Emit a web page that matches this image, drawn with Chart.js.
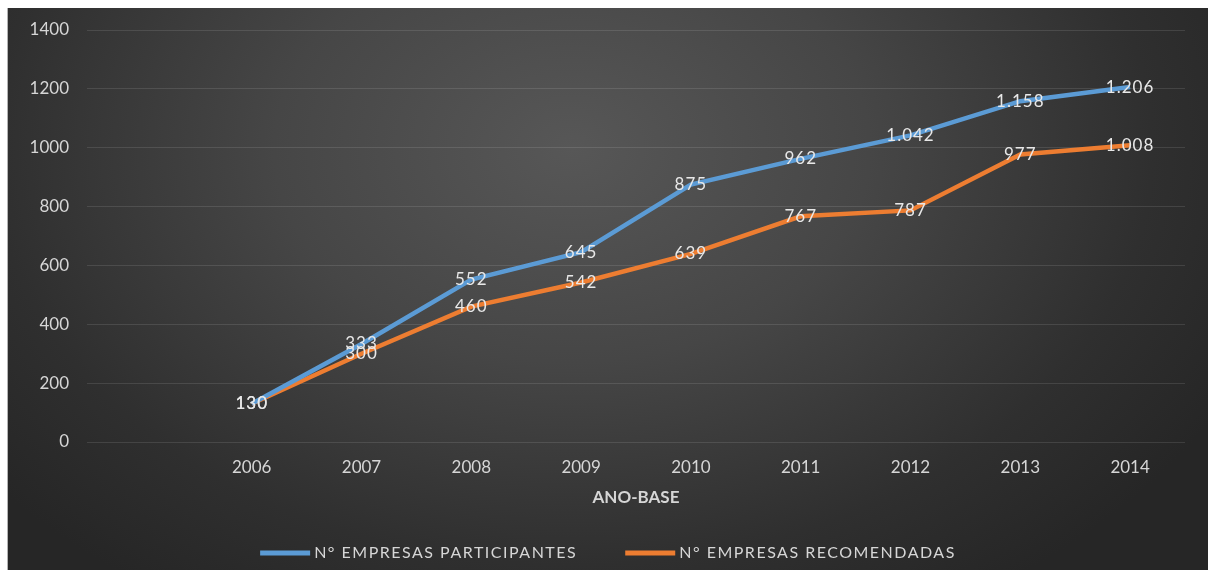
<!DOCTYPE html>
<html lang="pt-BR">
<head>
<meta charset="utf-8">
<title>Empresas participantes e recomendadas por ano-base</title>
<script src="https://cdn.jsdelivr.net/npm/chart.js@4.4.1/dist/chart.umd.min.js"></script>
<style>
  html, body { margin: 0; padding: 0; background: #fff; }
  #frame {
    position: absolute; left: 7px; top: 8px; width: 1201px; height: 562px;
    box-sizing: border-box; border-left: 1px solid #b4b4b4;
    background: radial-gradient(ellipse 62% 95% at 47% 25%, #575757 0%, #464646 40%, #2f2f2f 78%, #262626 100%);
  }
  canvas { display: block; }
</style>
</head>
<body>
<div id="frame"><canvas id="lineChart" width="1200" height="562"></canvas></div>
<script>
// categories (first slot is an empty band, as in the original)
const years = ['', '2006', '2007', '2008', '2009', '2010', '2011', '2012', '2013', '2014'];
const participantes = [null, 130, 333, 552, 645, 875, 962, 1042, 1158, 1206];
const recomendadas = [null, 130, 300, 460, 542, 639, 767, 787, 977, 1008];
const yTicks = [0, 200, 400, 600, 800, 1000, 1200, 1400];

const textColor = '#d6d6d6';
const fontFamily = 'Lato, "Open Sans", sans-serif';

function fmt(v) {
  return String(v).replace(/\B(?=(\d{3})+(?!\d))/g, '.');
}

// value labels centred on each point
const valueLabels = {
  id: 'valueLabels',
  afterDatasetsDraw(chart) {
    const ctx = chart.ctx;
    ctx.save();
    ctx.font = '17px ' + fontFamily;
    ctx.letterSpacing = '1px';
    ctx.fillStyle = '#e8e8e8';
    ctx.textAlign = 'center';
    ctx.textBaseline = 'middle';
    chart.data.datasets.forEach((ds, i) => {
      chart.getDatasetMeta(i).data.forEach((pt, j) => {
        const v = ds.data[j];
        if (v == null) return;
        ctx.fillText(fmt(v), pt.x, pt.y);
      });
    });
    ctx.restore();
  }
};

// legend with long line samples, like the original
const lineLegend = {
  id: 'lineLegend',
  afterDraw(chart) {
    const ctx = chart.ctx;
    ctx.save();
    ctx.font = '16px ' + fontFamily;
    ctx.letterSpacing = '1.5px';
    ctx.textBaseline = 'middle';
    const lineW = 50, gapText = 4, gapItem = 48, y = 545;
    const items = chart.data.datasets.map(ds => ({
      label: ds.label, color: ds.borderColor, w: ctx.measureText(ds.label).width
    }));
    const total = items.reduce((s, it) => s + lineW + gapText + it.w, 0) + gapItem * (items.length - 1);
    let x = (chart.width - total) / 2;
    items.forEach(it => {
      ctx.fillStyle = it.color;
      ctx.fillRect(x, y - 2.5, lineW, 5);
      ctx.fillStyle = textColor;
      ctx.fillText(it.label, x + lineW + gapText, y);
      x += lineW + gapText + it.w + gapItem;
    });
    ctx.restore();
  }
};

const ctx = document.getElementById('lineChart').getContext('2d');
new Chart(ctx, {
  type: 'line',
  data: {
    labels: years,
    datasets: [
      {
        label: 'N° EMPRESAS PARTICIPANTES',
        data: participantes,
        borderColor: '#5b9bd5',
        backgroundColor: '#5b9bd5',
        borderWidth: 4.5,
        pointRadius: 0,
        tension: 0
      },
      {
        label: 'N° EMPRESAS RECOMENDADAS',
        data: recomendadas,
        borderColor: '#ed7d31',
        backgroundColor: '#ed7d31',
        borderWidth: 4.5,
        pointRadius: 0,
        tension: 0
      }
    ]
  },
  options: {
    responsive: false,
    animation: false,
    layout: { padding: { left: 0, right: 23, top: 22, bottom: 62 } },
    plugins: {
      legend: { display: false },
      tooltip: { enabled: false }
    },
    scales: {
      x: {
        offset: true,
        grid: { display: false },
        border: { display: false },
        ticks: { color: textColor, font: { family: fontFamily, size: 17 }, padding: 7.4, autoSkip: false, maxRotation: 0 },
        title: { display: true, text: 'ANO-BASE', color: textColor, font: { family: fontFamily, size: 17, weight: 'bold' }, padding: { top: 2.4, bottom: 0 } }
      },
      y: {
        min: yTicks[0],
        max: yTicks[yTicks.length - 1],
        afterBuildTicks: (scale) => { scale.ticks = yTicks.map(v => ({ value: v })); },
        afterFit: (scale) => { scale.width = 79; },
        grid: { color: 'rgba(255,255,255,0.11)', drawTicks: false },
        border: { display: false },
        ticks: { color: textColor, font: { family: fontFamily, size: 17, lineHeight: 0.4 }, padding: 18, callback: (v) => String(v) }
      }
    }
  },
  plugins: [valueLabels, lineLegend]
});
</script>
</body>
</html>
